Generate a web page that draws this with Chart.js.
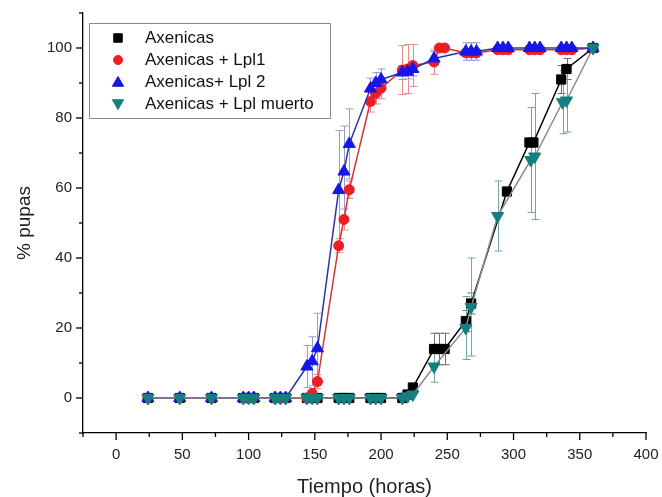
<!DOCTYPE html>
<html>
<head>
<meta charset="utf-8">
<script src="https://cdn.jsdelivr.net/npm/chart.js@4.4.1/dist/chart.umd.min.js"></script>
<style>
  html, body { margin: 0; padding: 0; background: #ffffff; }
  #wrap { width: 662px; height: 497px; }
</style>
</head>
<body>
<div id="wrap"><canvas id="c" width="662" height="497"></canvas></div>
<script>
// ---------- data ----------
const seriesNames = ["Axenicas", "Axenicas + Lpl1", "Axenicas+ Lpl 2", "Axenicas + Lpl muerto"];

const tBlack = [24,48,72,96,100,104,120,124,128,144,148,152,168,172,176,192,196,200,216,220,224,240,244,248,264,268,295,312,315,336,340,360];
const yBlack = [0,0,0,0,0,0,0,0,0,0,0,0,0,0,0,0,0,0,0,1,3,14,14,14,22,27,59,73,73,91,94,100];
const eBlack = [0,0,0,0,0,0,0,0,0,0,0,0,0,0,0,0,0,0,0,0,1,4.5,4.5,4.5,3,3,0,0,0,4,3,0];

const tRed = [24,48,72,96,100,104,120,124,128,144,148,152,168,172,176,192,196,200,216,220,224,240,244,248,264,268,272,288,292,296,312,316,320,336,340,344,360];
const yRed = [0,0,0,0,0,0,0,0,0,0,1.3,4.7,43.5,51,59.5,84.7,87,88.5,93.7,94,95,96,100,100,98.6,98.6,98.6,99.5,99.5,99.5,99.5,99.5,99.5,99.5,99.5,99.5,100];
const eRed = [0,0,0,0,0,0,0,0,0,0,1,2,2,3,2.5,3,3,3,7,7,6,3.5,0,0,1,1,1,0.5,0.5,0.5,0.5,0.5,0.5,0.5,0.5,0.5,0];

const tBlue = [24,48,72,96,100,104,120,124,128,144,148,152,168,172,176,192,196,200,216,220,224,240,264,268,272,288,292,296,312,316,320,336,340,344,360];
const yBlue = [0,0,0,0,0,0,0,0,0,9,10.5,14.2,59.4,64.7,72.6,88.4,90,91,93,93.2,94,97,99,99,99,100,100,100,100,100,100,100,100,100,100];
const eBlue = [0,0,0,0,0,0,0,0,0,6,7,10,17,13,10,3,3,3,2,2,2,2,2.5,2.5,2.5,0.5,0.5,0.5,0.5,0.5,0.5,0.5,0.5,0.5,0];

const tTeal = [24,48,72,96,100,104,120,124,128,144,148,152,168,172,176,192,196,200,216,220,224,240,264,268,288,313,316,337,340,360];
const yTeal = [0,0,0,0,0,0,0,0,0,0,0,0,0,0,0,0,0,0,0,0.5,1,9,20,26,52,68,69,84.5,85,100];
const eTeal = [0,0,0,0,0,0,0,0,0,0,0,0,0,0,0,0,0,0,0,0,0,4.5,9,14,10,15,18,9,9,0];

const xTitle = "Tiempo (horas)";
const yTitle = "% pupas";

// ---------- styles ----------
const FONT = "'Liberation Sans', Arial, sans-serif";
const styles = [
  { t: tBlack, y: yBlack, e: eBlack, line: "#000000", fill: "#000000", shape: "rect", r: 6.5, rot: 0, err: "#6e6e6e", order: 3 },
  { t: tRed, y: yRed, e: eRed, line: "#d83434", fill: "#ee1c24", shape: "circle", r: 5, rot: 0, err: "#e58a8a", order: 2 },
  { t: tBlue, y: yBlue, e: eBlue, line: "#2a34a8", fill: "#1616e8", shape: "triangle", r: 7, rot: 0, err: "#9a9ad0", order: 1 },
  { t: tTeal, y: yTeal, e: eTeal, line: "#8c8c8c", fill: "#157f7f", shape: "triangle", r: 7, rot: 180, err: "#6fa8a8", order: 0 }
];

const datasets = styles.map((s, k) => ({
  label: seriesNames[k],
  data: s.t.map((t, i) => ({ x: t, y: s.y[i] })),
  showLine: true,
  borderColor: s.line,
  borderWidth: 1.5,
  tension: 0,
  pointStyle: s.shape,
  pointRotation: s.rot,
  pointRadius: s.r,
  pointHoverRadius: s.r,
  pointBackgroundColor: s.fill,
  pointBorderColor: s.fill,
  pointBorderWidth: 1,
  order: s.order
}));

function drawMarker(ctx, shape, rot, x, y, r, color) {
  ctx.save();
  ctx.fillStyle = color; ctx.strokeStyle = color; ctx.lineWidth = 1;
  ctx.beginPath();
  if (shape === "rect") {
    const s = Math.SQRT1_2 * r;
    ctx.rect(x - s, y - s, 2 * s, 2 * s);
  } else if (shape === "circle") {
    ctx.arc(x, y, r, 0, Math.PI * 2);
  } else {
    const a0 = rot * Math.PI / 180;
    for (let k = 0; k < 3; k++) {
      const a = a0 + k * 2 * Math.PI / 3;
      const px = x + Math.sin(a) * r, py = y - Math.cos(a) * r;
      if (k === 0) ctx.moveTo(px, py); else ctx.lineTo(px, py);
    }
    ctx.closePath();
  }
  ctx.fill(); ctx.stroke();
  ctx.restore();
}

const decorPlugin = {
  id: "decor",
  beforeDatasetsDraw(chart) {
    const ctx = chart.ctx, xs = chart.scales.x, ys = chart.scales.y;
    ctx.save();
    ctx.lineWidth = 1;
    styles.forEach(s => {
      ctx.strokeStyle = s.err;
      s.t.forEach((t, i) => {
        const e = s.e[i];
        if (!e) return;
        const px = Math.round(xs.getPixelForValue(t)) + 0.5;
        const pTop = ys.getPixelForValue(s.y[i] + e);
        const pBot = ys.getPixelForValue(s.y[i] - e);
        ctx.beginPath();
        ctx.moveTo(px, pTop); ctx.lineTo(px, pBot);
        ctx.moveTo(px - 4, pTop); ctx.lineTo(px + 4, pTop);
        ctx.moveTo(px - 4, pBot); ctx.lineTo(px + 4, pBot);
        ctx.stroke();
      });
    });
    ctx.restore();
  },
  afterDraw(chart) {
    const ctx = chart.ctx, xs = chart.scales.x, ys = chart.scales.y;
    const ca = chart.chartArea;
    ctx.save();
    ctx.strokeStyle = "#000"; ctx.lineWidth = 1.3;
    xs.ticks.forEach(tk => {
      const px = xs.getPixelForValue(tk.value);
      const len = (tk.value % 50 === 0) ? 7 : 4;
      ctx.beginPath(); ctx.moveTo(px, ca.bottom); ctx.lineTo(px, ca.bottom + len); ctx.stroke();
    });
    ys.ticks.forEach(tk => {
      const py = ys.getPixelForValue(tk.value);
      const len = (tk.value % 20 === 0) ? 7 : 4;
      ctx.beginPath(); ctx.moveTo(ca.left, py); ctx.lineTo(ca.left - len, py); ctx.stroke();
    });
    // legend
    ctx.strokeStyle = "#8a8a8a"; ctx.lineWidth = 1;
    ctx.fillStyle = "#ffffff";
    ctx.beginPath(); ctx.rect(89.5, 23.5, 241, 95); ctx.fill(); ctx.stroke();
    ctx.font = "17px " + FONT;
    ctx.textBaseline = "middle"; ctx.textAlign = "left";
    const rows = [38, 60, 82, 104];
    styles.forEach((s, k) => {
      drawMarker(ctx, s.shape, s.rot, 118, rows[k] + (s.shape === "triangle" ? (s.rot ? -1 : 1) : 0), s.r - 0.5, s.fill);
      ctx.fillStyle = "#111";
      ctx.fillText(seriesNames[k], 145, rows[k]);
    });
    ctx.restore();
  }
};

new Chart(document.getElementById("c"), {
  type: "scatter",
  data: { datasets },
  options: {
    responsive: false,
    animation: false,
    devicePixelRatio: 1,
    layout: { padding: { top: 13, right: 16, left: 0, bottom: 0 } },
    plugins: { legend: { display: false }, tooltip: { enabled: false } },
    scales: {
      x: {
        type: "linear", min: -25, max: 400,
        grid: { display: false, tickLength: 7 },
        border: { display: true, color: "#000", width: 1.3 },
        ticks: {
          stepSize: 25, autoSkip: false, maxRotation: 0, padding: 6,
          color: "#222", font: { family: FONT, size: 15 },
          callback: v => (v >= 0 && v % 50 === 0) ? String(v) : ""
        },
        title: { display: true, text: xTitle, color: "#222", font: { family: FONT, size: 20, lineHeight: 1 }, padding: { top: 0, bottom: 0 } },
        afterFit: s => { s.height = 64; s.paddingRight = 0; s.paddingLeft = 0; }
      },
      y: {
        type: "linear", min: -10, max: 110,
        grid: { display: false, tickLength: 7 },
        border: { display: true, color: "#000", width: 1.3 },
        ticks: {
          stepSize: 10, autoSkip: false, padding: 4,
          color: "#222", font: { family: FONT, size: 15 },
          callback: v => (v >= 0 && v <= 100 && v % 20 === 0) ? String(v) : ""
        },
        title: { display: true, text: yTitle, color: "#222", font: { family: FONT, size: 19, lineHeight: 1 }, padding: { top: 15, bottom: 0 } },
        afterFit: s => { s.width = 83; s.paddingTop = 0; s.paddingBottom = 0; }
      }
    }
  },
  plugins: [decorPlugin]
});
</script>
</body>
</html>
